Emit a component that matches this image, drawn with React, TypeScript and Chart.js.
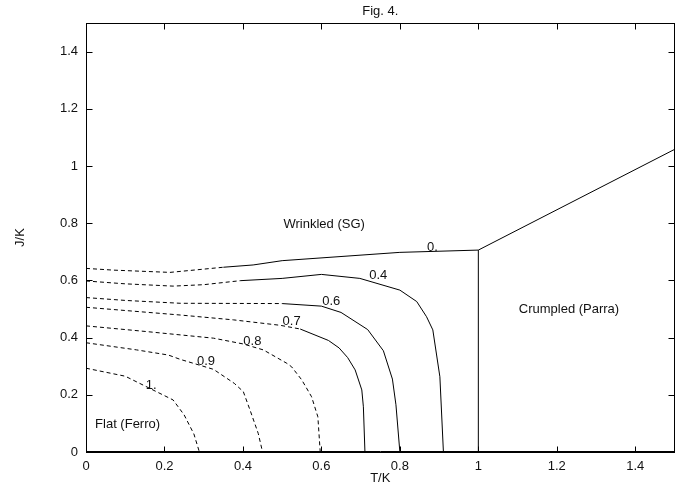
import React, { useEffect, useRef } from 'react';
import { Chart, registerables } from 'chart.js';

Chart.register(...registerables);

// ---- tick values & labels ----
const xTicks = [0, 0.2, 0.4, 0.6, 0.8, 1.0, 1.2, 1.4];
const xTickLabels = ['0', '0.2', '0.4', '0.6', '0.8', '1', '1.2', '1.4'];
const yTicks = [0, 0.2, 0.4, 0.6, 0.8, 1.0, 1.2, 1.4];
const yTickLabels = ['0', '0.2', '0.4', '0.6', '0.8', '1', '1.2', '1.4'];

// ---- phase boundary lines ----
const sgDashX = [0, 0.069, 0.214, 0.35];
const sgDashY = [0.642, 0.636, 0.628, 0.646];
const sgSolidX = [0.35, 0.426, 0.5, 0.8, 1.0];
const sgSolidY = [0.646, 0.654, 0.669, 0.698, 0.706];
const crumpX = [1.0, 1.5];
const crumpY = [0.706, 1.058];
const vertX = [1.0, 1.0];
const vertY = [0, 0.706];

// ---- contour 0.4 ----
const c04DashX = [0, 0.1, 0.222, 0.3, 0.393];
const c04DashY = [0.598, 0.588, 0.58, 0.585, 0.599];
const c04SolidX = [0.393, 0.5, 0.6, 0.698, 0.8, 0.843, 0.868, 0.884, 0.902, 0.911];
const c04SolidY = [0.599, 0.607, 0.621, 0.607, 0.566, 0.526, 0.473, 0.427, 0.263, 0];

// ---- contour 0.6 ----
const c06DashX = [0, 0.1, 0.24, 0.5];
const c06DashY = [0.54, 0.53, 0.52, 0.519];
const c06SolidX = [0.5, 0.6, 0.65, 0.718, 0.758, 0.781, 0.79, 0.8];
const c06SolidY = [0.519, 0.51, 0.488, 0.428, 0.354, 0.255, 0.165, 0];

// ---- contour 0.7 ----
const c07DashX = [0, 0.24, 0.376, 0.495, 0.546];
const c07DashY = [0.506, 0.479, 0.462, 0.443, 0.43];
const c07SolidX = [0.546, 0.618, 0.645, 0.667, 0.686, 0.703, 0.707, 0.711];
const c07SolidY = [0.43, 0.39, 0.364, 0.33, 0.287, 0.217, 0.158, 0];

// ---- contour 0.8 ----
const c08X = [0, 0.155, 0.325, 0.4, 0.452, 0.512, 0.524, 0.55, 0.575, 0.591, 0.597];
const c08Y = [0.441, 0.421, 0.398, 0.378, 0.357, 0.31, 0.298, 0.252, 0.193, 0.123, 0];

// ---- contour 0.9 ----
const c09X = [0, 0.129, 0.21, 0.24, 0.325, 0.378, 0.401, 0.418, 0.439, 0.45];
const c09Y = [0.382, 0.357, 0.339, 0.324, 0.289, 0.24, 0.211, 0.147, 0.065, 0];

// ---- contour 1. ----
const c10X = [0, 0.1, 0.2, 0.222, 0.25, 0.275, 0.289];
const c10Y = [0.293, 0.265, 0.197, 0.182, 0.13, 0.063, 0];

// ---- text annotations ----
const noteTexts = ['0.', '0.4', '0.6', '0.7', '0.8', '0.9', '1.', 'Wrinkled (SG)', 'Crumpled (Parra)', 'Flat (Ferro)'];
const noteX = [0.883, 0.745, 0.625, 0.524, 0.424, 0.306, 0.166, 0.607, 1.231, 0.106];
const noteY = [0.717, 0.619, 0.526, 0.456, 0.385, 0.316, 0.234, 0.797, 0.497, 0.098];

const chartTitle = 'Fig. 4.';
const FONT = '"Liberation Sans", Arial, Helvetica, sans-serif';
const TEXT = '#111';

function toPts(xs: number[], ys: number[]) {
  return xs.map((x, i) => ({ x, y: ys[i] }));
}

function line(xs: number[], ys: number[], dashed: boolean) {
  return {
    data: toPts(xs, ys),
    showLine: true,
    pointRadius: 0,
    borderColor: '#000',
    borderWidth: 1,
    borderDash: dashed ? [4, 3] : [],
    tension: 0,
    fill: false,
  };
}

const framePlugin = {
  id: 'frame',
  afterDatasetsDraw(chart: any) {
    const { ctx, chartArea } = chart;
    const xs = chart.scales.x;
    const ys = chart.scales.y;
    const l = Math.round(chartArea.left) + 0.5;
    const r = Math.round(chartArea.right) - 0.5;
    const t = Math.round(chartArea.top) + 0.5;
    const b = Math.round(chartArea.bottom) + 0.5;
    ctx.save();
    ctx.strokeStyle = '#000';
    ctx.lineWidth = 1;
    ctx.setLineDash([]);
    ctx.strokeRect(l, t, r - l, b - t);
    ctx.beginPath();
    ctx.moveTo(l, b - 1);
    ctx.lineTo(r, b - 1);
    ctx.stroke();
    const tl = 6;
    ctx.beginPath();
    for (const v of xTicks) {
      const px = Math.round(xs.getPixelForValue(v)) + 0.5;
      ctx.moveTo(px, b);
      ctx.lineTo(px, b - tl);
      ctx.moveTo(px, t);
      ctx.lineTo(px, t + tl);
    }
    for (const v of yTicks) {
      const py = Math.round(ys.getPixelForValue(v)) + 0.5;
      ctx.moveTo(l, py);
      ctx.lineTo(l + tl, py);
      ctx.moveTo(r, py);
      ctx.lineTo(r - tl, py);
    }
    ctx.stroke();

    ctx.fillStyle = TEXT;
    ctx.font = `13px ${FONT}`;
    ctx.textAlign = 'center';
    ctx.textBaseline = 'middle';
    noteTexts.forEach((txt, i) => {
      ctx.fillText(txt, xs.getPixelForValue(noteX[i]), ys.getPixelForValue(noteY[i]));
    });
    ctx.fillText(chartTitle, (chartArea.left + chartArea.right) / 2, 11);
    ctx.restore();
  },
};

export default function App() {
  const ref = useRef<HTMLCanvasElement>(null);
  useEffect(() => {
    const canvas = ref.current;
    if (!canvas) return;
    const datasets = [
      line(sgDashX, sgDashY, true),
      line(sgSolidX, sgSolidY, false),
      line(crumpX, crumpY, false),
      line(vertX, vertY, false),
      line(c04DashX, c04DashY, true),
      line(c04SolidX, c04SolidY, false),
      line(c06DashX, c06DashY, true),
      line(c06SolidX, c06SolidY, false),
      line(c07DashX, c07DashY, true),
      line(c07SolidX, c07SolidY, false),
      line(c08X, c08Y, true),
      line(c09X, c09Y, true),
      line(c10X, c10Y, true),
    ];
    const chart = new Chart(canvas, {
      type: 'scatter',
      data: { datasets } as any,
      options: {
        responsive: false,
        animation: false,
        devicePixelRatio: 1,
        layout: { padding: { left: 0, right: 12.5, top: 23, bottom: 0 } },
        plugins: {
          legend: { display: false },
          tooltip: { enabled: false },
          title: { display: false },
        },
        scales: {
          x: {
            type: 'linear',
            min: 0,
            max: 1.5,
            afterBuildTicks: (s: any) => {
              s.ticks = xTicks.map((v) => ({ value: v }));
            },
            afterFit: (s: any) => {
              s.height = 39;
            },
            grid: { display: false, drawTicks: false },
            border: { display: false },
            ticks: {
              padding: 7,
              color: TEXT,
              font: { family: FONT, size: 13 },
              maxRotation: 0,
              autoSkip: false,
              callback: (_v: any, i: number) => xTickLabels[i],
            },
            title: {
              display: true,
              text: 'T/K',
              color: TEXT,
              font: { family: FONT, size: 13 },
              padding: { top: 0, bottom: 5 },
            },
          },
          y: {
            type: 'linear',
            min: 0,
            max: 1.5,
            afterBuildTicks: (s: any) => {
              s.ticks = yTicks.map((v) => ({ value: v }));
            },
            afterFit: (s: any) => {
              s.width = 86;
            },
            grid: { display: false, drawTicks: false },
            border: { display: false },
            ticks: {
              padding: 8,
              color: TEXT,
              font: { family: FONT, size: 13 },
              autoSkip: false,
              callback: (_v: any, i: number) => yTickLabels[i],
            },
            title: {
              display: true,
              text: 'J/K',
              color: TEXT,
              font: { family: FONT, size: 13 },
              padding: { top: 13, bottom: 0 },
            },
          },
        },
      } as any,
      plugins: [framePlugin],
    });
    return () => chart.destroy();
  }, []);
  return (
    <div style={{ position: 'absolute', left: 0, top: 0, width: 687, height: 491, background: '#fff' }}>
      <canvas ref={ref} width={687} height={491} style={{ display: 'block', width: 687, height: 491 }} />
    </div>
  );
}
